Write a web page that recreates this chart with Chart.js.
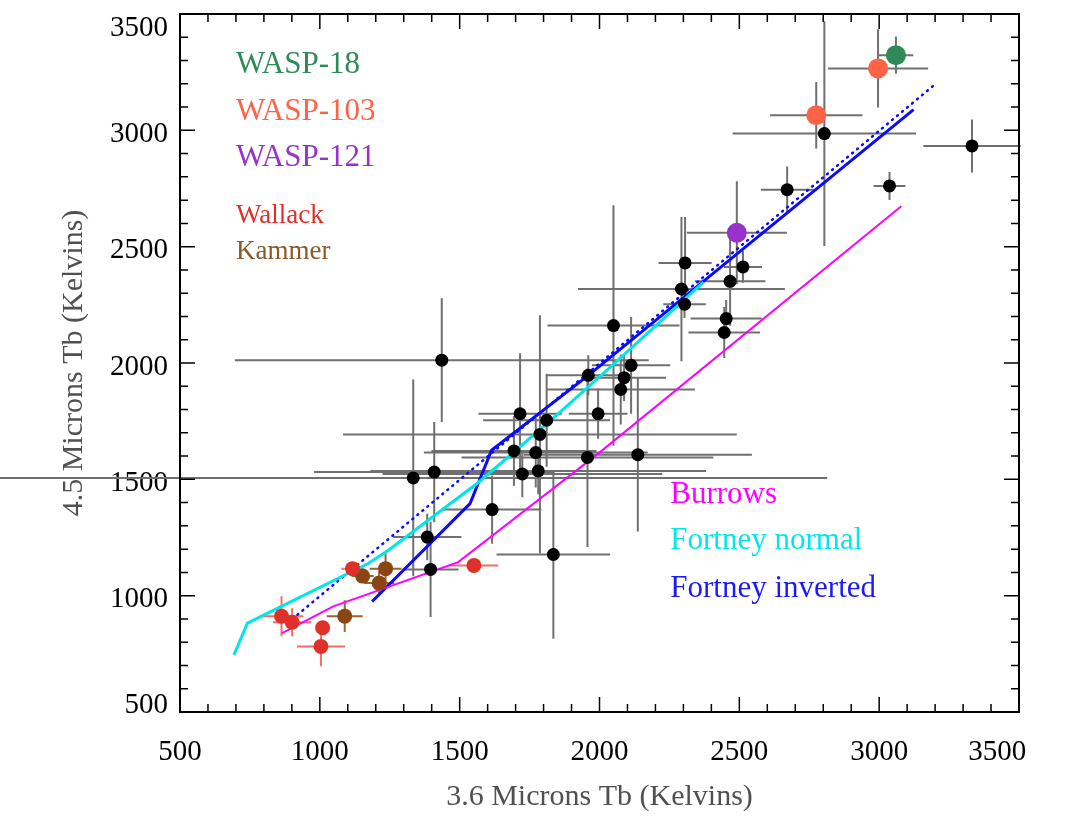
<!DOCTYPE html>
<html lang="en">
<head>
  <meta charset="UTF-8" />
  <title>3.6 vs 4.5 Microns Brightness Temperature</title>
  <script src="https://cdn.jsdelivr.net/npm/chart.js"></script>
  <style>
    html, body { margin: 0; padding: 0; background: #fff; }
    #wrap { width: 1071px; height: 824px; position: relative; }
  </style>
</head>
<body>
<div id="wrap"><canvas id="tbChart"></canvas></div>

<script>
  // literature planets (black)
  const tb36 = [3332, 3037, 2804, 2671, 2306, 2513, 2467, 2293, 2304, 2453, 2446, 2050, 1960, 2113, 2088, 2076, 1995,
                2137, 1436, 1716, 1811, 1787, 1694, 1772, 1724, 1781, 1957, 1409, 1334, 1384, 1396, 1616, 1835];
  const tb45 = [2933, 2761, 2986, 2745, 2430, 2413, 2351, 2318, 2253, 2191, 2131, 2161, 1947, 1990, 1937, 1886, 1782,
                1606, 2012, 1782, 1754, 1693, 1622, 1615, 1523, 1536, 1594, 1531, 1506, 1252, 1113, 1370, 1177];
  const err36 = [174, 57, 328, 94, 95, 68, 126, 370, 76, 127, 128, 236, 149, 140, 150, 265, 105,
                 408, 740, 149, 227, 704, 295, 400, 500, 600, 450, 430, 1480, 122, 100, 176, 203];
  const err45 = [114, 60, 483, 100, 198, 68, 191, 310, 60, 80, 110, 517, 86, 208, 100, 150, 108,
                 330, 266, 260, 200, 512, 150, 150, 100, 100, 385, 215, 423, 100, 205, 147, 362];

  // Wallack
  const wallack36 = [1117, 1551, 863, 901, 1010, 1004];
  const wallack45 = [1116, 1130, 912, 886, 862, 782];
  const wallackErr36 = [40, 87, 78, 69, 0, 86];
  const wallackErr45 = [20, 20, 86, 60, 0, 85];

  // Kammer
  const kammer36 = [1153, 1235, 1212, 1089];
  const kammer45 = [1084, 1116, 1054, 912];
  const kammerErr36 = [40, 57, 54, 64];
  const kammerErr45 = [30, 68, 50, 68];

  // WASP planets
  const w18_36 = [3060], w18_45 = [3323], w18Err36 = [62], w18Err45 = [80];
  const w103_36 = [2996, 2775], w103_45 = [3266, 3065], w103Err36 = [179, 165], w103Err45 = [168, 143];
  const w121_36 = [2491], w121_45 = [2560], w121Err36 = [179], w121Err45 = [221];

  // models
  const burrowsX = [865, 1048, 1495, 2002, 3079];
  const burrowsY = [839, 954, 1144, 1617, 2674];
  const fnormX = [693, 741, 1173, 1245, 1561, 1632, 1859, 2026, 2372];
  const fnormY = [746, 882, 1138, 1195, 1481, 1553, 1789, 1968, 2348];
  const finvX = [1187, 1537, 1614, 1960, 3123];
  const finvY = [975, 1396, 1625, 1947, 3089];
  const finvDotX = [920, 3200];
  const finvDotY = [918, 3198];

  const axisTicks = [500, 1000, 1500, 2000, 2500, 3000, 3500];

  const SERIF = '"Liberation Serif", "Times New Roman", serif';

  const pts = (xs, ys) => xs.map((x, i) => ({ x: x, y: ys[i] }));

  function pointSet(label, xs, ys, ex, ey, color, errColor, r) {
    return {
      label: label,
      data: pts(xs, ys),
      xerr: ex, yerr: ey, errColor: errColor,
      backgroundColor: color,
      borderColor: color,
      borderWidth: 0,
      pointRadius: r,
      pointHoverRadius: r,
      order: 1
    };
  }

  function lineSet(label, xs, ys, color, width, dash) {
    return {
      label: label,
      data: pts(xs, ys),
      showLine: true,
      borderColor: color,
      borderWidth: width,
      borderDash: dash || [],
      borderCapStyle: dash ? 'round' : 'butt',
      pointRadius: 0,
      fill: false,
      order: 2
    };
  }

  // text labels (position in data units)
  const notes = [
    { text: 'WASP-18', color: '#2e8b57', size: 31, x: 700, y: 3245 },
    { text: 'WASP-103', color: '#ff6347', size: 31, x: 700, y: 3043 },
    { text: 'WASP-121', color: '#9932cc', size: 31, x: 700, y: 2846 },
    { text: 'Wallack', color: '#e0302a', size: 27, x: 700, y: 2600 },
    { text: 'Kammer', color: '#8b5a2b', size: 27, x: 700, y: 2445 },
    { text: 'Burrows', color: '#ff00ff', size: 31, x: 2253, y: 1397 },
    { text: 'Fortney normal', color: '#00e8e8', size: 31, x: 2253, y: 1199 },
    { text: 'Fortney inverted', color: '#1a1aff', size: 31, x: 2253, y: 993 }
  ];

  const errorBars = {
    id: 'errorBars',
    beforeDatasetsDraw(chart) {
      const { ctx, scales: { x, y } } = chart;
      ctx.save();
      ctx.lineWidth = 2;
      chart.data.datasets.forEach(ds => {
        if (!ds.xerr) return;
        ctx.strokeStyle = ds.errColor;
        ds.data.forEach((p, i) => {
          const px = x.getPixelForValue(p.x), py = y.getPixelForValue(p.y);
          ctx.beginPath();
          if (ds.xerr[i]) {
            ctx.moveTo(x.getPixelForValue(p.x - ds.xerr[i]), py);
            ctx.lineTo(x.getPixelForValue(p.x + ds.xerr[i]), py);
          }
          if (ds.yerr[i]) {
            ctx.moveTo(px, y.getPixelForValue(p.y - ds.yerr[i]));
            ctx.lineTo(px, y.getPixelForValue(p.y + ds.yerr[i]));
          }
          ctx.stroke();
        });
      });
      ctx.restore();
    }
  };

  // box + inward ticks on all four sides
  const frame = {
    id: 'frame',
    afterDatasetsDraw(chart) {
      const { ctx, chartArea: a, scales: { x, y } } = chart;
      ctx.save();
      ctx.strokeStyle = '#000';
      ctx.lineWidth = 1.5;
      ctx.beginPath();
      for (let v = 600; v < 3500; v += 100) {
        const len = v % 500 === 0 ? 15 : 8;
        const px = x.getPixelForValue(v), py = y.getPixelForValue(v);
        ctx.moveTo(px, a.bottom); ctx.lineTo(px, a.bottom - len);
        ctx.moveTo(px, a.top); ctx.lineTo(px, a.top + len);
        ctx.moveTo(a.left, py); ctx.lineTo(a.left + len, py);
        ctx.moveTo(a.right, py); ctx.lineTo(a.right - len, py);
      }
      ctx.stroke();
      ctx.lineWidth = 2;
      ctx.strokeRect(a.left, a.top, a.right - a.left, a.bottom - a.top);
      ctx.restore();
    },
    afterDraw(chart) {
      const { ctx, scales: { x, y } } = chart;
      ctx.save();
      ctx.textAlign = 'left';
      ctx.textBaseline = 'alphabetic';
      notes.forEach(n => {
        ctx.fillStyle = n.color;
        ctx.font = n.size + 'px ' + SERIF;
        ctx.fillText(n.text, x.getPixelForValue(n.x), y.getPixelForValue(n.y));
      });
      ctx.restore();
    }
  };

  // keep the plot box fixed, no extra room for overhanging labels
  function fixPad(s) {
    s.paddingLeft = 0; s.paddingRight = 0;
    s.paddingTop = 0; s.paddingBottom = 0;
  }

  new Chart(document.getElementById('tbChart'), {
    type: 'scatter',
    data: {
      datasets: [
        lineSet('Burrows', burrowsX, burrowsY, '#ff00ff', 2),
        lineSet('Fortney normal', fnormX, fnormY, '#00e5e5', 3),
        lineSet('Fortney inverted', finvX, finvY, '#0a0aff', 3),
        lineSet('Fortney inverted (dotted)', finvDotX, finvDotY, '#0a0aff', 2.5, [1, 5.5]),
        pointSet('Literature', tb36, tb45, err36, err45, '#000000', '#707070', 6.5),
        pointSet('Wallack', wallack36, wallack45, wallackErr36, wallackErr45, '#e0302a', '#f07068', 7.5),
        pointSet('Kammer', kammer36, kammer45, kammerErr36, kammerErr45, '#8b4513', '#a0622d', 7.5),
        pointSet('WASP-121', w121_36, w121_45, w121Err36, w121Err45, '#9932cc', '#707070', 10),
        pointSet('WASP-103', w103_36, w103_45, w103Err36, w103Err45, '#ff6347', '#707070', 10),
        pointSet('WASP-18', w18_36, w18_45, w18Err36, w18Err45, '#2e8b57', '#707070', 10)
      ]
    },
    options: {
      responsive: true,
      maintainAspectRatio: false,
      animation: false,
      devicePixelRatio: 1,
      layout: { padding: { left: 0, right: 52, top: 14, bottom: 0 } },
      plugins: {
        legend: { display: false },
        tooltip: { enabled: false }
      },
      scales: {
        x: {
          type: 'linear',
          min: 500, max: 3500,
          afterBuildTicks: s => { s.ticks = axisTicks.map(v => ({ value: v })); },
          afterFit: s => { s.height = 112; fixPad(s); },
          grid: { display: false, drawTicks: false },
          border: { display: false },
          ticks: {
            color: '#000',
            padding: 23,
            maxRotation: 0,
            autoSkip: false,
            font: { family: SERIF, size: 29 },
            // last label sits inside the axis end
            callback: v => v === 3500 ? '3500      ' : String(v)
          },
          title: {
            display: true,
            text: '3.6 Microns Tb (Kelvins)',
            color: '#505050',
            font: { family: SERIF, size: 30 },
            padding: { top: 0, bottom: 9 }
          }
        },
        y: {
          type: 'linear',
          min: 500, max: 3500,
          afterBuildTicks: s => { s.ticks = axisTicks.map(v => ({ value: v })); },
          afterFit: s => { s.width = 180; fixPad(s); },
          grid: { display: false, drawTicks: false },
          border: { display: false },
          ticks: {
            color: '#000',
            padding: 12,
            labelOffset: 4,
            autoSkip: false,
            font: { family: SERIF, size: 29, lineHeight: 0.7 },
            callback: v => v === 3500 ? ['', '3500'] : v === 500 ? ['500', ''] : String(v)
          },
          title: {
            display: true,
            text: '4.5 Microns Tb (Kelvins)',
            color: '#505050',
            font: { family: SERIF, size: 30 },
            padding: { top: 56, bottom: 0 }
          }
        }
      }
    },
    plugins: [errorBars, frame]
  });
</script>
</body>
</html>
